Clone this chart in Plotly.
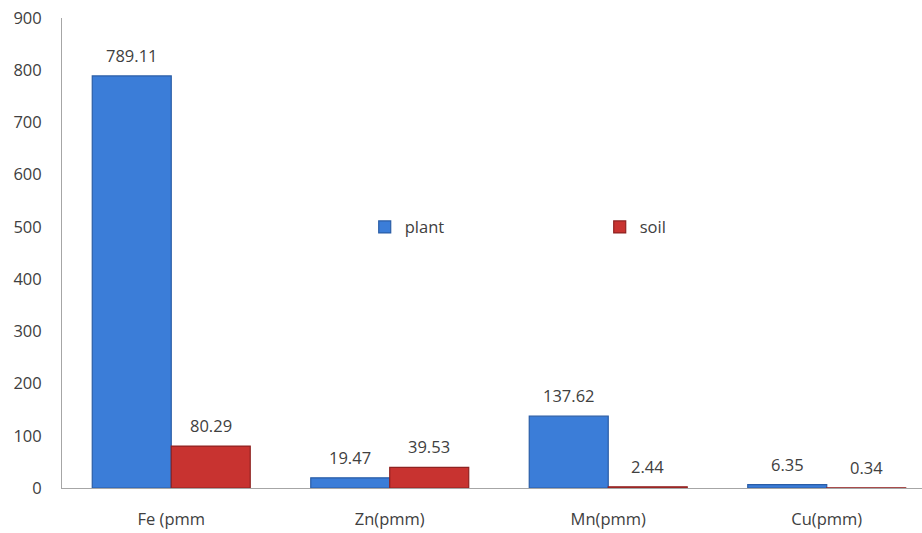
import plotly.graph_objects as go

# Element concentrations (ppm) in plant tissue and soil
categories = ["Fe (pmm", "Zn(pmm)", "Mn(pmm)", "Cu(pmm)"]
plant = [789.11, 19.47, 137.62, 6.35]
soil = [80.29, 39.53, 2.44, 0.34]
y_ticks = [0, 100, 200, 300, 400, 500, 600, 700, 800, 900]

FONT = "Open Sans, sans-serif"
TXT = "#404040"
FS = 16.5

fig = go.Figure()
fig.add_trace(go.Bar(
    name="plant", x=categories, y=plant,
    marker=dict(color="#3b7dd8", line=dict(color="#2a5da6", width=1.2)),
))
fig.add_trace(go.Bar(
    name="soil", x=categories, y=soil,
    marker=dict(color="#c83330", line=dict(color="#8f2220", width=1.2)),
))

# value labels above each bar
bar_shift = 39.5
for i, c in enumerate(categories):
    for vals, sh in ((plant, -bar_shift), (soil, bar_shift)):
        fig.add_annotation(
            x=c, y=vals[i], xref="x", yref="y", xshift=sh, yshift=7,
            text=f"{vals[i]:.2f}", showarrow=False, yanchor="bottom",
            font=dict(family=FONT, size=FS, color=TXT),
        )

fig.update_layout(
    width=922, height=533,
    margin=dict(l=62, r=0, t=18, b=45, autoexpand=False),
    paper_bgcolor="white", plot_bgcolor="white",
    barmode="group", bargap=0.277, bargroupgap=0,
    font=dict(family=FONT, size=FS, color=TXT),
    legend=dict(
        orientation="h", x=0.352, y=0.555, xanchor="left", yanchor="middle",
        entrywidth=190, entrywidthmode="pixels",
        font=dict(family=FONT, size=FS, color=TXT),
        bgcolor="rgba(0,0,0,0)",
    ),
    xaxis=dict(
        range=[-0.5, 3.436], showline=True, linecolor="#a6a6a6", linewidth=1,
        ticks="", showgrid=False, tickfont=dict(size=FS, color=TXT),
        ticklabelstandoff=16,
    ),
    yaxis=dict(
        range=[0, 900], tickvals=y_ticks, showline=True, linecolor="#a6a6a6",
        linewidth=1, ticks="", showgrid=False, zeroline=False,
        tickfont=dict(size=FS, color=TXT), ticklabelstandoff=16,
    ),
)

fig.write_html("out.html")
